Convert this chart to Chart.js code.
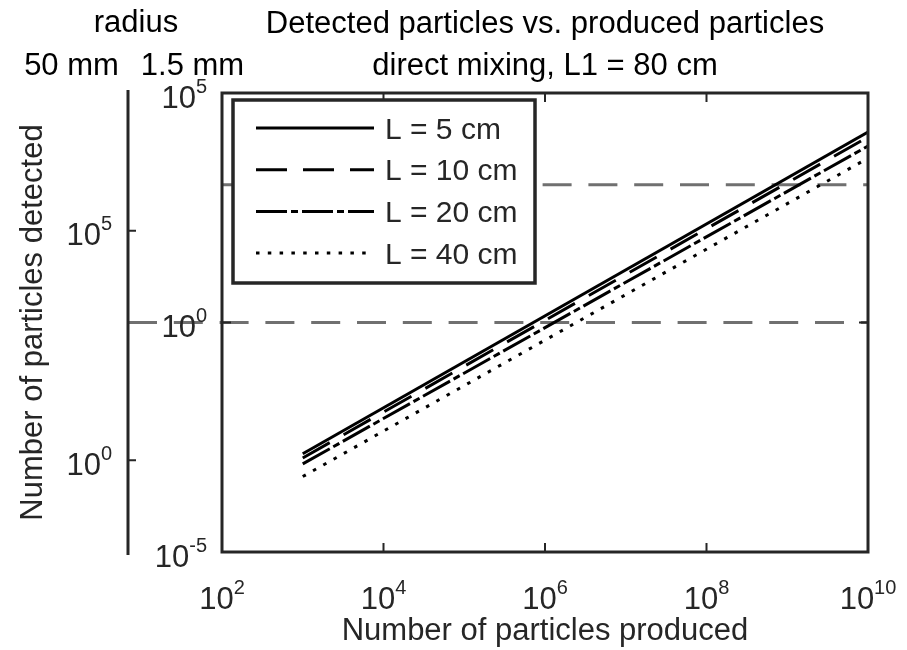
<!DOCTYPE html>
<html>
<head>
<meta charset="utf-8">
<script src="https://cdn.jsdelivr.net/npm/chart.js@4.4.1/dist/chart.umd.min.js"></script>
<style>
  html, body { margin: 0; padding: 0; background: #fff; }
  #wrap { width: 907px; height: 650px; }
</style>
</head>
<body>
<div id="wrap"><canvas id="detected"></canvas></div>
<script>
// data (log-log, straight lines)
const produced = [1e3, 1e10];
const detL5 = [1.38e-3, 1.41e4];
const detL10 = [1.12e-3, 1.1e4];
const detL20 = [8.3e-4, 7.0e3];
const detL40 = [4.4e-4, 3.8e3];
const seriesLabels = ["L = 5 cm", "L = 10 cm", "L = 20 cm", "L = 40 cm"];
const seriesValues = [detL5, detL10, detL20, detL40];

const xTicks = [1e2, 1e4, 1e6, 1e8, 1e10];
const yTicks = [1e-5, 1e0, 1e5];
const outerTicks = [1e0, 1e5];
const levels = [1e0, 1e3]; // gray dashed lines (inner axis units)

const titleLines = ["Detected particles vs. produced particles", "direct mixing, L1 = 80 cm"];
const radiusHead = "radius";
const radiusOuter = "50 mm";
const radiusInner = "1.5 mm";

const FONT = '"Liberation Sans", Arial, Helvetica, sans-serif';
const INK = "#262626";
const dashes = [[], [31, 16], [31, 4, 7, 4], [3.5, 8.3]];

Chart.defaults.font.family = FONT;

function drawPow(ctx, value, x, y, align) {
  const exp = String(Math.round(Math.log10(value)));
  const base = "31px " + FONT, sup = "20px " + FONT;
  ctx.font = base;
  const wb = ctx.measureText("10").width;
  ctx.font = sup;
  const we = ctx.measureText(exp).width;
  const x0 = align === "center" ? x - (wb + we) / 2 : x - wb - we;
  ctx.textAlign = "left";
  ctx.textBaseline = "alphabetic";
  ctx.font = base;
  ctx.fillText("10", x0, y + 14.5);
  ctx.font = sup;
  ctx.fillText(exp, x0 + wb, y - 0.5);
}

const matlabAxes = {
  id: "matlabAxes",
  beforeDatasetsDraw(chart) {
    const { ctx, chartArea, scales } = chart;
    ctx.save();
    ctx.strokeStyle = "#707070";
    ctx.lineWidth = 3;
    ctx.setLineDash([29, 16.8]);
    levels.forEach((v, i) => {
      const y = scales.y.getPixelForValue(v);
      const x0 = i === 0 ? scales.y2.right : chartArea.left;
      ctx.beginPath();
      ctx.moveTo(x0, y);
      ctx.lineTo(chartArea.right, y);
      ctx.stroke();
    });
    ctx.restore();
  },
  afterDatasetsDraw(chart) {
    const { ctx, chartArea: ca, scales } = chart;
    const { x, y, y2 } = scales;
    const tl = 9;
    ctx.save();
    ctx.strokeStyle = INK;
    ctx.fillStyle = INK;

    // inward ticks
    ctx.lineWidth = 2;
    ctx.beginPath();
    xTicks.forEach(v => {
      const px = x.getPixelForValue(v);
      ctx.moveTo(px, ca.bottom); ctx.lineTo(px, ca.bottom - tl);
      ctx.moveTo(px, ca.top); ctx.lineTo(px, ca.top + tl);
    });
    yTicks.forEach(v => {
      const py = y.getPixelForValue(v);
      ctx.moveTo(ca.left, py); ctx.lineTo(ca.left + tl, py);
      ctx.moveTo(ca.right, py); ctx.lineTo(ca.right - tl, py);
    });
    outerTicks.forEach(v => {
      const py = y2.getPixelForValue(v);
      ctx.moveTo(y2.right, py); ctx.lineTo(y2.right + 8, py);
    });
    ctx.stroke();

    // box and outer axis line
    ctx.lineWidth = 3;
    ctx.strokeRect(ca.left, ca.top, ca.right - ca.left, ca.bottom - ca.top);
    ctx.beginPath();
    ctx.moveTo(y2.right, y2.top - 3);
    ctx.lineTo(y2.right, y2.bottom + 3);
    ctx.stroke();

    // tick labels
    xTicks.forEach(v => drawPow(ctx, v, x.getPixelForValue(v), ca.bottom + 42, "center"));
    yTicks.forEach(v => drawPow(ctx, v, ca.left - 15, y.getPixelForValue(v), "right"));
    outerTicks.forEach(v => drawPow(ctx, v, y2.right - 16, y2.getPixelForValue(v), "right"));

    // legend
    const bx = ca.left + 11, by = ca.top + 7, bw = 302, bh = 183;
    ctx.fillStyle = "#fff";
    ctx.fillRect(bx, by, bw, bh);
    ctx.lineWidth = 3.5;
    ctx.strokeStyle = INK;
    ctx.strokeRect(bx, by, bw, bh);
    chart.data.datasets.forEach((ds, i) => {
      const ry = by + 28 + i * 41.7;
      ctx.strokeStyle = "#000";
      ctx.lineWidth = 3;
      ctx.lineCap = "butt";
      ctx.setLineDash(ds.borderDash || []);
      ctx.beginPath();
      ctx.moveTo(bx + 23, ry);
      ctx.lineTo(bx + 141, ry);
      ctx.stroke();
      ctx.setLineDash([]);
      ctx.fillStyle = INK;
      ctx.font = "30px " + FONT;
      ctx.textAlign = "left";
      ctx.textBaseline = "alphabetic";
      ctx.fillText(ds.label, bx + 152, ry + 10.7);
    });

    // header texts
    ctx.fillStyle = "#000";
    ctx.font = "31px " + FONT;
    ctx.textAlign = "center";
    const cx = (ca.left + ca.right) / 2;
    ctx.fillText(titleLines[0], cx, 33);
    ctx.fillText(titleLines[1], cx, 75);
    ctx.fillText(radiusHead, 136, 32);
    ctx.fillText(radiusOuter, 71.5, 75);
    ctx.fillText(radiusInner, 192.5, 75);
    ctx.restore();
  }
};

new Chart(document.getElementById("detected"), {
  type: "line",
  data: {
    datasets: seriesLabels.map((label, i) => ({
      label,
      data: produced.map((px, k) => ({ x: px, y: seriesValues[i][k] })),
      borderColor: "#000",
      borderWidth: 3,
      borderDash: dashes[i],
      borderCapStyle: "butt",
      pointRadius: 0,
      fill: false,
      tension: 0,
    })),
  },
  options: {
    responsive: true,
    maintainAspectRatio: false,
    animation: false,
    layout: { padding: { top: 93, right: 39, bottom: 0, left: 0 } },
    plugins: {
      legend: { display: false },
      title: { display: false },
      tooltip: { enabled: false },
    },
    scales: {
      x: {
        type: "logarithmic",
        position: "bottom",
        min: 1e2,
        max: 1e10,
        afterBuildTicks: s => { s.ticks = xTicks.map(value => ({ value })); },
        afterFit: s => { s.height = 98; },
        ticks: { display: false },
        grid: { display: false },
        border: { display: false },
        title: {
          display: true,
          text: "Number of particles produced",
          color: INK,
          font: { size: 31 },
          padding: { top: 0, bottom: 0 },
        },
      },
      y: {
        type: "logarithmic",
        position: "left",
        weight: 0,
        min: 1e-5,
        max: 1e5,
        afterBuildTicks: s => { s.ticks = yTicks.map(value => ({ value })); },
        afterFit: s => { s.width = 94; },
        ticks: { display: false },
        grid: { display: false },
        border: { display: false },
      },
      y2: {
        type: "logarithmic",
        position: "left",
        weight: 1,
        min: 1e-2,
        max: 1e8,
        afterBuildTicks: s => { s.ticks = outerTicks.map(value => ({ value })); },
        afterFit: s => { s.width = 128; },
        ticks: { display: false },
        grid: { display: false },
        border: { display: false },
        title: {
          display: true,
          text: "Number of particles detected",
          color: INK,
          font: { size: 31 },
          padding: { top: 15, bottom: 0 },
        },
      },
    },
  },
  plugins: [matlabAxes],
});
</script>
</body>
</html>
